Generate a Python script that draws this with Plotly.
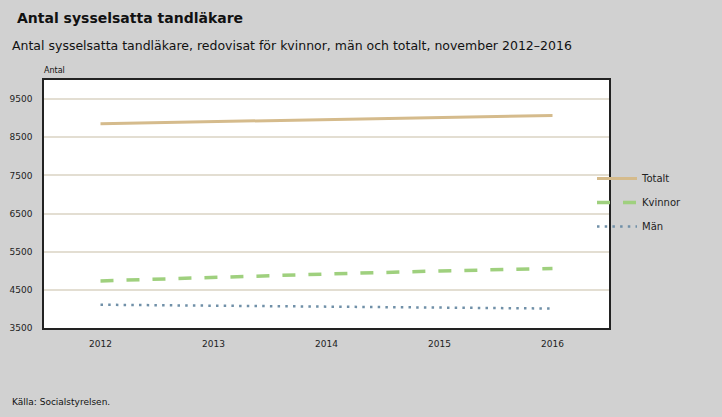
import plotly.graph_objects as go

years = ["2012", "2013", "2014", "2015", "2016"]
totalt = [8855, 8910, 8965, 9015, 9070]
kvinnor = [4735, 4830, 4915, 4995, 5060]
man = [4110, 4085, 4065, 4035, 4010]
y_ticks = [3500, 4500, 5500, 6500, 7500, 8500, 9500]

FONT = "'DejaVu Sans', sans-serif"

fig = go.Figure()
fig.add_trace(go.Scatter(x=years, y=totalt, name="Totalt", mode="lines", legendgroup="a",
                         line=dict(color="#d5bb8c", width=3)))
fig.add_trace(go.Scatter(x=years, y=kvinnor, name="Kvinnor", mode="lines", legendgroup="b",
                         line=dict(color="#9fd07e", width=3.5, dash="13px,13px")))
fig.add_trace(go.Scatter(x=years, y=man, name="Män", mode="lines", legendgroup="c",
                         line=dict(color="#7090a8", width=2.5, dash="2.5px,5.2px")))

pw = 722 - 44 - 113
ph = 417 - 80 - 89
def px(xp):
    return (xp - 44) / pw
def py(yp):
    return (417 - 89 - yp) / ph

fig.update_layout(
    width=722, height=417,
    paper_bgcolor="#d1d1d1", plot_bgcolor="#ffffff",
    margin=dict(l=44, r=113, t=80, b=89),
    font=dict(family=FONT, color="#222222", size=9),
    showlegend=True,
    legend=dict(x=px(592), xanchor="left", y=py(164), yanchor="top",
                bgcolor="rgba(0,0,0,0)", font=dict(size=10, color="#222"),
                tracegroupgap=5, itemwidth=40),
    xaxis=dict(type="category", range=[-0.5, 4.5], showgrid=False,
               showline=True, linecolor="#222", linewidth=1.5, mirror=True,
               ticks="outside", ticklen=6, tickcolor="rgba(0,0,0,0)",
               tickfont=dict(size=9), fixedrange=True, automargin=False),
    yaxis=dict(range=[3500, 10000], tickvals=y_ticks, showgrid=True,
               gridcolor="#e3ded2", gridwidth=1.5, zeroline=False,
               showline=True, linecolor="#222", linewidth=1.5, mirror=True,
               ticks="outside", ticklen=8, tickcolor="rgba(0,0,0,0)",
               tickfont=dict(size=9), fixedrange=True, automargin=False),
)

texts = [
    ("<b>Antal sysselsatta tandläkare</b>", 15, 18, 14),
    ("Antal sysselsatta tandläkare, redovisat för kvinnor, män och totalt, november 2012–2016", 10, 45, 12.5),
    ("Antal", 42, 70, 8),
    ("Källa: Socialstyrelsen.", 10, 402, 9),
]
for t, xx, yy, sz in texts:
    fig.add_annotation(text=t, xref="paper", yref="paper", x=px(xx), y=py(yy),
                       xanchor="left", yanchor="middle", showarrow=False,
                       font=dict(size=sz, color="#111"))

fig.write_html("out.html", config={"displayModeBar": False},
               post_script="document.body.style.margin='0';document.body.style.padding='0';")
